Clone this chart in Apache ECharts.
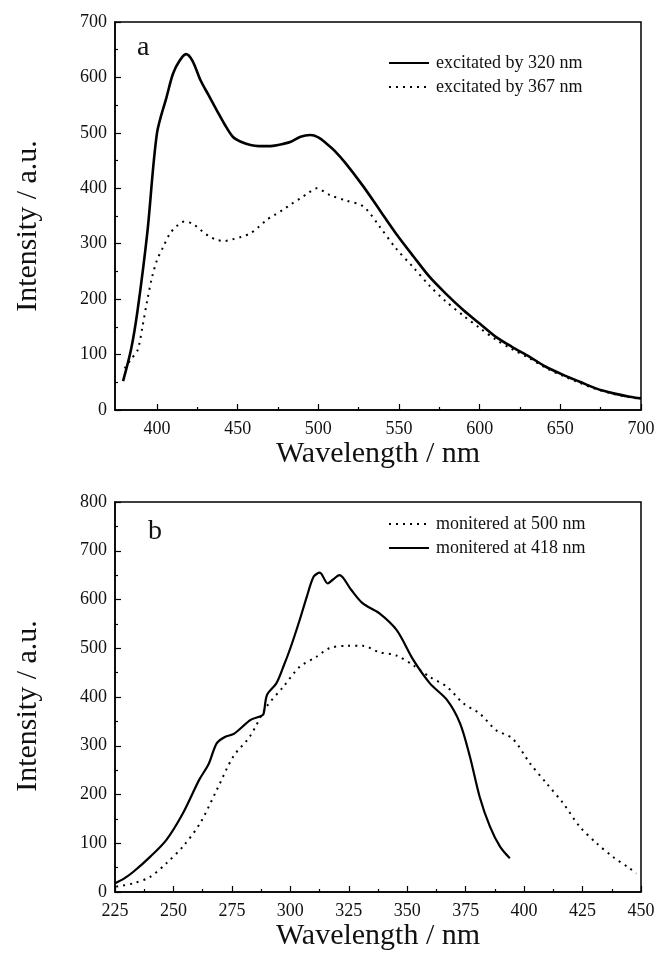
<!DOCTYPE html>
<html>
<head>
<meta charset="utf-8">
<script src="https://cdn.jsdelivr.net/npm/echarts@6/dist/echarts.min.js"></script>
<style>
  html, body { margin: 0; padding: 0; background: #fff; }
  #chart { width: 658px; height: 962px; }
</style>
</head>
<body>
<div id="chart"></div>
<script>
// panel a : emission spectra
var exc320X = [379, 384, 388, 394, 400, 406, 410, 414, 418, 422, 427, 432, 437, 442, 447, 452, 458, 463, 468, 473, 478, 483, 489, 495, 500, 505, 510, 517, 528, 538, 548, 559, 569, 579, 590, 600, 610, 620, 631, 641, 652, 662, 672, 683, 693, 700];
var exc320Y = [52, 110, 180, 319, 499, 565, 607, 630, 642, 630, 595, 568, 541, 515, 493, 484, 478, 476, 476, 477, 480, 484, 493, 496, 492, 481, 468, 445, 403, 361, 319, 277, 240, 210, 180, 156, 132, 114, 96, 78, 63, 51, 39, 30, 24, 21];
var exc367X = [380, 384, 388, 391, 394, 397, 400, 404, 408, 412, 417, 422, 427, 432, 437, 442, 447, 452, 458, 463, 468, 473, 478, 483, 489, 494, 499, 507, 517, 528, 538, 548, 559, 569, 579, 590, 600, 610, 620, 631, 641, 652, 662, 672, 683, 693, 700];
var exc367Y = [75, 92, 108, 150, 198, 240, 270, 295, 318, 331, 340, 336, 325, 314, 307, 305, 308, 312, 319, 330, 343, 352, 361, 371, 382, 392, 400, 388, 378, 367, 331, 292, 257, 224, 196, 170, 148, 127, 110, 93, 76, 61, 49, 38, 29, 23, 20];

// panel b : excitation spectra
var mon418X = [225, 229, 233, 240, 247, 254, 261, 265, 268.5, 272, 276, 283, 287, 288.5, 290, 294, 297, 300, 304, 307, 310, 312.6, 316, 318, 321, 326, 331, 338, 345.5, 352.6, 359.7, 367, 372.6, 376.8, 381, 385.4, 389.7, 393.9];
var mon418Y = [18, 28, 42, 72, 107, 161, 230, 262, 305, 318, 325, 353, 360, 365, 404, 428, 462, 500, 558, 605, 647, 655, 633, 640, 650, 620, 592, 572, 537, 476, 428, 394, 346, 278, 195, 134, 93, 69];
var mon500X = [225.5, 233, 240, 247, 254, 261.4, 268.5, 275.6, 282.7, 289.8, 297, 304, 311, 316.7, 324, 331, 338, 345.5, 352.6, 359.7, 367, 374, 381, 388, 395, 402.5, 409.6, 416.7, 423.8, 431, 438, 445, 448];
var mon500Y = [11, 18, 31, 59, 93, 141, 209, 278, 319, 380, 421, 462, 482, 500, 505, 505, 492, 485, 465, 441, 421, 387, 366, 332, 315, 264, 223, 182, 134, 100, 72, 49, 38];

var xTicksA = [400, 450, 500, 550, 600, 650, 700];
var xMinorA = [425, 475, 525, 575, 625, 675];

function pairs(xs, ys) {
  return xs.map(function (x, i) { return [x, ys[i]]; });
}

var FONT = '"Liberation Serif", "DejaVu Serif", serif';
var black = '#000';
var labelStyle = { color: '#111', fontFamily: FONT, fontSize: 18 };
var titleStyle = { color: '#111', fontFamily: FONT, fontSize: 30 };

function yAxisFor(grid, max) {
  return {
    type: 'value', gridIndex: grid, min: 0, max: max, interval: 100,
    axisLine: { show: true, lineStyle: { color: black, width: 1.5 } },
    axisTick: { inside: true, length: 6, lineStyle: { color: black, width: 1.2 } },
    minorTick: { show: true, splitNumber: 2, length: 3, lineStyle: { color: black, width: 1.2 } },
    axisLabel: Object.assign({ margin: 8 }, labelStyle),
    splitLine: { show: false }
  };
}

function yTitle(cy) {
  return {
    type: 'text', x: 28, y: cy, rotation: Math.PI / 2,
    style: { text: 'Intensity / a.u.', fill: '#111', font: '30px ' + FONT, align: 'center', verticalAlign: 'middle' }
  };
}

var legendBase = {
  orient: 'vertical', itemWidth: 40, itemHeight: 10, itemGap: 6, padding: 0,
  itemStyle: { opacity: 0 },
  textStyle: { color: '#111', fontFamily: FONT, fontSize: 18, padding: [0, 0, 0, 2] }
};

var chart = echarts.init(document.getElementById('chart'));
chart.setOption({
  backgroundColor: '#fff',
  animation: false,
  grid: [
    { left: 115, top: 22, width: 526, height: 388, show: true, borderColor: black, borderWidth: 1.5 },
    { left: 115, top: 502, width: 526, height: 390, show: true, borderColor: black, borderWidth: 1.5 }
  ],
  xAxis: [
    {
      type: 'value', gridIndex: 0, min: 374, max: 700, position: 'bottom',
      name: 'Wavelength / nm', nameLocation: 'middle', nameGap: 23,
      nameTextStyle: titleStyle,
      axisLine: { show: true, onZero: false, lineStyle: { color: black, width: 1.5 } },
      axisTick: { inside: true, length: 6, customValues: xTicksA, lineStyle: { color: black, width: 1.2 } },
      axisLabel: Object.assign({ margin: 10, customValues: xTicksA }, labelStyle),
      splitLine: { show: false }
    },
    {
      type: 'value', gridIndex: 0, min: 374, max: 700, position: 'bottom',
      axisLine: { show: false, onZero: false },
      axisTick: { inside: true, length: 3, customValues: xMinorA, lineStyle: { color: black, width: 1.2 } },
      axisLabel: { show: false },
      splitLine: { show: false }
    },
    {
      type: 'value', gridIndex: 1, min: 225, max: 450, interval: 25, position: 'bottom',
      name: 'Wavelength / nm', nameLocation: 'middle', nameGap: 22,
      nameTextStyle: titleStyle,
      axisLine: { show: true, onZero: false, lineStyle: { color: black, width: 1.5 } },
      axisTick: { inside: true, length: 6, lineStyle: { color: black, width: 1.2 } },
      minorTick: { show: true, splitNumber: 2, length: 3, lineStyle: { color: black, width: 1.2 } },
      axisLabel: Object.assign({ margin: 10, showMinLabel: true, showMaxLabel: true }, labelStyle),
      splitLine: { show: false }
    }
  ],
  yAxis: [yAxisFor(0, 700), yAxisFor(1, 800)],
  legend: [
    Object.assign({ left: 388, top: 54, data: ['excitated by 320 nm', 'excitated by 367 nm'] }, legendBase),
    Object.assign({ left: 388, top: 515, data: ['monitered at 500 nm', 'monitered at 418 nm'] }, legendBase)
  ],
  graphic: [
    yTitle(226),
    yTitle(706),
    { type: 'text', left: 137, top: 34, style: { text: 'a', fill: '#111', font: '28px ' + FONT } },
    { type: 'text', left: 148, top: 518, style: { text: 'b', fill: '#111', font: '28px ' + FONT } }
  ],
  series: [
    {
      name: 'excitated by 320 nm', type: 'line', xAxisIndex: 0, yAxisIndex: 0,
      symbol: 'none', smooth: 0.3, data: pairs(exc320X, exc320Y),
      lineStyle: { color: black, width: 2.6 }, itemStyle: { color: black }
    },
    {
      name: 'excitated by 367 nm', type: 'line', xAxisIndex: 0, yAxisIndex: 0,
      symbol: 'none', smooth: 0.3, data: pairs(exc367X, exc367Y),
      lineStyle: { color: black, width: 2, type: [2, 5] }, itemStyle: { color: black }
    },
    {
      name: 'monitered at 500 nm', type: 'line', xAxisIndex: 2, yAxisIndex: 1,
      symbol: 'none', smooth: 0.3, data: pairs(mon500X, mon500Y),
      lineStyle: { color: black, width: 2, type: [2, 5] }, itemStyle: { color: black }
    },
    {
      name: 'monitered at 418 nm', type: 'line', xAxisIndex: 2, yAxisIndex: 1,
      symbol: 'none', smooth: 0.3, data: pairs(mon418X, mon418Y),
      lineStyle: { color: black, width: 2.2 }, itemStyle: { color: black }
    }
  ]
});
</script>
</body>
</html>
